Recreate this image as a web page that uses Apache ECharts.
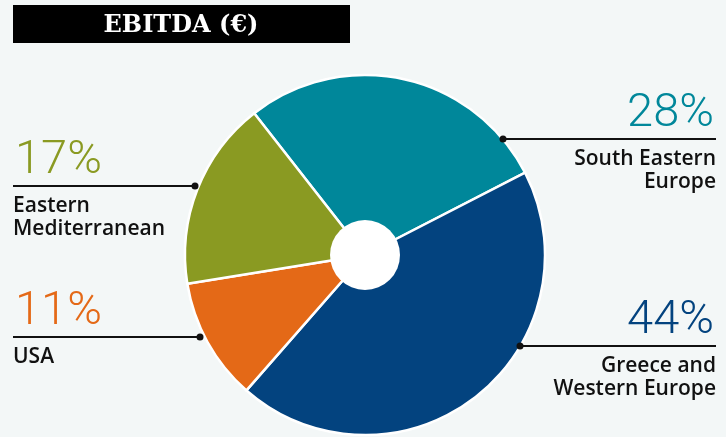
<!DOCTYPE html>
<html>
<head>
<meta charset="utf-8">
<script src="https://cdn.jsdelivr.net/npm/echarts@6/dist/echarts.min.js"></script>
<style>
  html, body { margin: 0; padding: 0; background: #f3f7f7; }
  #chart { width: 726px; height: 437px; }
</style>
</head>
<body>
<div id="chart"></div>
<script>
// data, clockwise from the top-left boundary
const regions = ['South Eastern\nEurope', 'Greece and\nWestern Europe', 'USA', 'Eastern\nMediterranean']
const shares = [28, 44, 11, 17]
const colors = ['#00879a', '#03437f', '#e46917', '#8a9a22']

// where each annotation goes (dot on pie edge, line row, side)
const notes = [
  { dotX: 503, lineY: 139, side: 'right' },
  { dotX: 520, lineY: 346, side: 'right' },
  { dotX: 200, lineY: 337, side: 'left' },
  { dotX: 195, lineY: 186, side: 'left' }
]

const center = [365, 255]

const chart = echarts.init(document.getElementById('chart'))

let graphics = [
  { type: 'rect', shape: { x: 13, y: 5, width: 337, height: 38 }, style: { fill: '#000' } },
  { type: 'text', x: 181, y: 26, style: {
      text: 'EBITDA (€)', fill: '#fff', align: 'center', verticalAlign: 'middle',
      fontFamily: 'DejaVu Serif', fontWeight: 'bold', fontSize: 24 } },
  { type: 'circle', shape: { cx: center[0], cy: center[1], r: 35 }, style: { fill: '#fff' }, z: 100 }
]

shares.forEach((v, i) => {
  const n = notes[i]
  const left = n.side === 'left'
  const x1 = left ? 13 : n.dotX
  const x2 = left ? n.dotX : 716
  graphics.push({ type: 'line', shape: { x1, y1: n.lineY, x2, y2: n.lineY },
    style: { stroke: '#111', lineWidth: 2 }, z: 90 })
  graphics.push({ type: 'circle', shape: { cx: n.dotX, cy: n.lineY, r: 3.5 },
    style: { fill: '#111' }, z: 91 })
  graphics.push({ type: 'text', x: left ? 15 : 714, y: n.lineY - 25, style: {
      text: v + '%', fill: colors[i], align: left ? 'left' : 'right', verticalAlign: 'middle',
      fontFamily: 'Roboto', fontWeight: 300, fontSize: 47 } })
  graphics.push({ type: 'text', x: left ? 13 : 716, y: n.lineY + 9, style: {
      text: regions[i], fill: '#111', align: left ? 'left' : 'right', verticalAlign: 'top',
      fontFamily: 'Open Sans', fontWeight: 600, fontSize: 21, lineHeight: 23 } })
})

chart.setOption({
  backgroundColor: '#f3f7f7',
  animation: false,
  graphic: graphics,
  series: [{
    type: 'pie',
    center: center,
    radius: [0, 180],
    startAngle: 128,
    clockwise: true,
    label: { show: false },
    labelLine: { show: false },
    itemStyle: { borderColor: '#fff', borderWidth: 2.5 },
    data: shares.map((v, i) => ({ name: regions[i], value: v, itemStyle: { color: colors[i] } }))
  }]
})
</script>
</body>
</html>
